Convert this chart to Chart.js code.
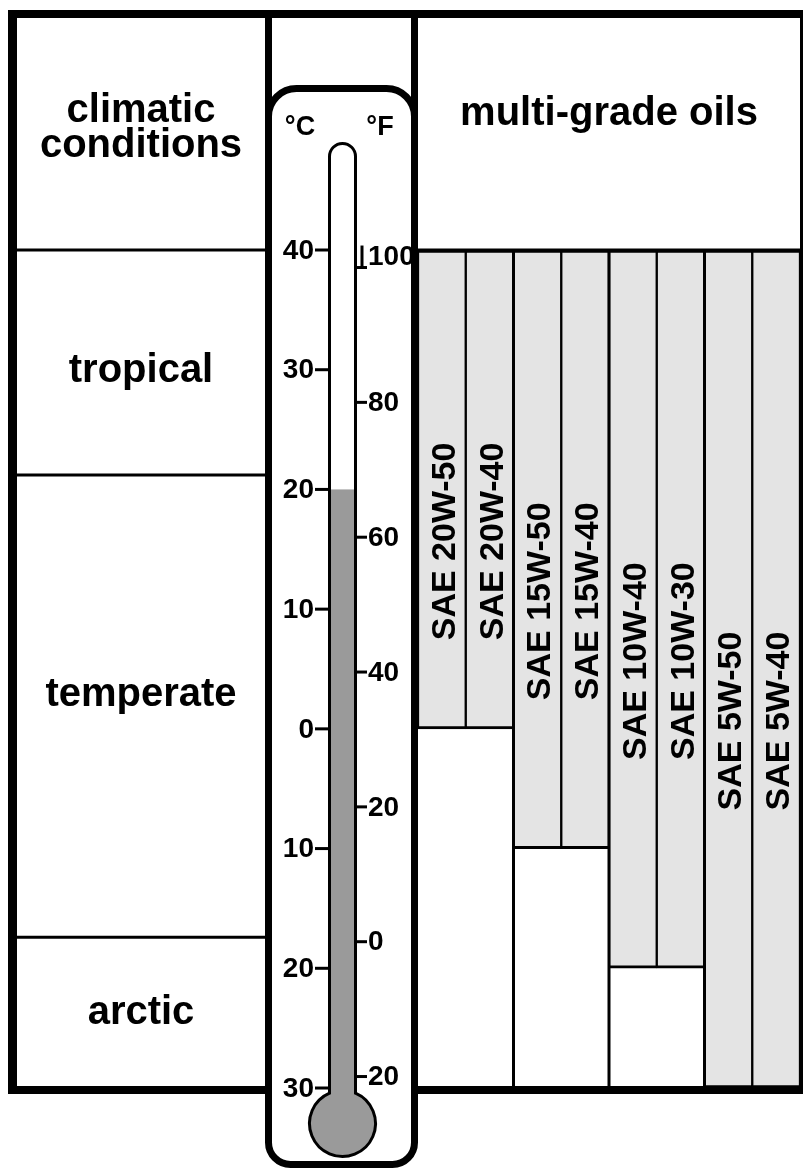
<!DOCTYPE html>
<html>
<head>
<meta charset="utf-8">
<script src="https://cdn.jsdelivr.net/npm/chart.js@4.4.1/dist/chart.umd.min.js"></script>
<style>
  body { margin: 0; background: #fff; }
  canvas { display: block; }
</style>
</head>
<body>
<canvas id="myChart" width="803" height="1171"></canvas>
<script>
// Oel-Sorten und ihr Temperaturbereich (°C)
const oilGrades = ['SAE 20W-50', 'SAE 20W-40', 'SAE 15W-50', 'SAE 15W-40', 'SAE 10W-40', 'SAE 10W-30', 'SAE 5W-50', 'SAE 5W-40'];
const oilMinC = [0, 0, -10, -10, -20, -20, -30, -30];
const oilMaxC = [40, 40, 40, 40, 40, 40, 40, 40];

// Klimazonen (°C)
const climateZones = ['tropical', 'temperate', 'arctic'];
const climateTopC = [40, 21.2, -17.4];
const climateBottomC = [21.2, -17.4, -30];

// Thermometer-Skalen
const celsiusTicks = [40, 30, 20, 10, 0, -10, -20, -30];
const celsiusLabels = ['40', '30', '20', '10', '0', '10', '20', '30'];
const fahrenheitTicks = [100, 80, 60, 40, 20, 0, -20];
const fahrenheitLabels = ['100', '80', '60', '40', '20', '0', '20'];
const thermometerC = 20;

const FONT = "'Liberation Sans', Arial, Helvetica, sans-serif";

function roundedRect(ctx, x, y, w, h, rTop, rBottom) {
    ctx.beginPath();
    ctx.moveTo(x + rTop, y);
    ctx.arcTo(x + w, y, x + w, y + h, rTop);
    ctx.arcTo(x + w, y + h, x, y + h, rBottom);
    ctx.arcTo(x, y + h, x, y, rBottom);
    ctx.arcTo(x, y, x + w, y, rTop);
    ctx.closePath();
}

// zeichnet Rahmen, Klimaspalte, Thermometer und Beschriftungen
const diagramPlugin = {
    id: 'diagram',
    beforeDraw(chart) {
        const ctx = chart.ctx;
        ctx.save();
        ctx.fillStyle = '#fff';
        ctx.fillRect(0, 0, chart.width, chart.height);
        ctx.restore();
    },
    afterDatasetsDraw(chart, args, opts) {
        const ctx = chart.ctx;
        const yC = chart.scales.y;
        const yF = chart.scales.yF;
        const area = chart.chartArea;
        const meta = chart.getDatasetMeta(0);
        ctx.save();
        ctx.fillStyle = '#000';
        ctx.strokeStyle = '#000';

        // Trennlinien zwischen Gruppen mit gleichem Tiefstwert
        ctx.lineWidth = 3;
        for (let i = 1; i < oilMinC.length; i++) {
            if (oilMinC[i] !== oilMinC[i - 1]) {
                const x = (meta.data[i - 1].x + meta.data[i].x) / 2;
                ctx.beginPath();
                ctx.moveTo(x, area.top);
                ctx.lineTo(x, area.bottom);
                ctx.stroke();
            }
        }

        // Oel-Beschriftung senkrecht
        ctx.font = 'bold 34px ' + FONT;
        ctx.textAlign = 'center';
        ctx.textBaseline = 'alphabetic';
        meta.data.forEach(function(bar, i) {
            const top = Math.min(bar.y, bar.base);
            const bottom = Math.max(bar.y, bar.base);
            ctx.save();
            ctx.translate(bar.x + 13, (top + bottom) / 2 + 52);
            ctx.rotate(-Math.PI / 2);
            ctx.fillText(oilGrades[i], 0, 0);
            ctx.restore();
        });

        // Aussenrahmen
        const yBottom = yC.getPixelForValue(-30) + 2;
        ctx.fillRect(8, 10, 795, 8);
        ctx.fillRect(8, 10, 9, yBottom + 4 - 10);
        ctx.fillRect(8, yBottom - 4, 795, 8);
        ctx.fillRect(800, 10, 3, yBottom - 10);
        ctx.fillRect(265, 10, 7, yBottom + 4 - 10);
        ctx.fillRect(411, 10, 7, yBottom + 4 - 10);

        // Kopfzeile
        ctx.lineWidth = 3;
        const yHead = yC.getPixelForValue(40);
        ctx.beginPath();
        ctx.moveTo(17, yHead); ctx.lineTo(265, yHead);
        ctx.moveTo(418, yHead); ctx.lineTo(800, yHead);
        ctx.stroke();

        ctx.font = 'bold 40px ' + FONT;
        ctx.textAlign = 'center';
        ctx.textBaseline = 'alphabetic';
        ctx.fillText('climatic', 141, 122);
        ctx.fillText('conditions', 141, 157);
        ctx.fillText('multi-grade oils', 609, 125);

        // Klimazonen
        climateZones.forEach(function(zone, i) {
            const t = yC.getPixelForValue(climateTopC[i]);
            const b = yC.getPixelForValue(climateBottomC[i]);
            if (i < climateZones.length - 1) {
                ctx.beginPath();
                ctx.moveTo(17, b); ctx.lineTo(265, b);
                ctx.stroke();
            }
            ctx.fillText(zone, 141, (t + b) / 2 + opts.labelShift[i]);
        });

        // Thermometer-Gehaeuse
        ctx.fillStyle = '#fff';
        ctx.lineWidth = 7;
        roundedRect(ctx, 268.5, 88.5, 146, 1076, 28, 22);
        ctx.fill();
        ctx.stroke();

        // Roehre + Kugel
        const tx = 342.5, tr = 13, tTop = 156.5;
        const bx = 342.5, by = 1123.5, br = 33;
        const dy = Math.sqrt(br * br - tr * tr);
        const tube = new Path2D();
        tube.moveTo(tx - tr, by - dy);
        tube.lineTo(tx - tr, tTop);
        tube.arc(tx, tTop, tr, Math.PI, 0);
        tube.lineTo(tx + tr, by - dy);
        tube.arc(bx, by, br, Math.atan2(-dy, tr), Math.atan2(-dy, -tr));
        tube.closePath();
        ctx.fillStyle = '#fff';
        ctx.fill(tube);
        ctx.save();
        ctx.clip(tube);
        ctx.fillStyle = '#9a9a9a';
        const yMerc = yC.getPixelForValue(thermometerC);
        ctx.fillRect(0, yMerc, chart.width, chart.height - yMerc);
        ctx.restore();
        ctx.lineWidth = 3;
        ctx.stroke(tube);

        // Skalen
        ctx.fillStyle = '#000';
        ctx.font = 'bold 27px ' + FONT;
        ctx.textAlign = 'center';
        ctx.fillText('°C', 300, 135);
        ctx.fillText('°F', 380, 135);

        ctx.font = 'bold 28px ' + FONT;
        ctx.textBaseline = 'middle';
        ctx.textAlign = 'right';
        celsiusTicks.forEach(function(v, i) {
            const y = yC.getPixelForValue(v);
            ctx.beginPath();
            ctx.moveTo(315, y); ctx.lineTo(329, y);
            ctx.stroke();
            ctx.fillText(celsiusLabels[i], 314, y + 1);
        });
        ctx.textAlign = 'left';
        fahrenheitTicks.forEach(function(v, i) {
            const y = yF.getPixelForValue(v);
            ctx.beginPath();
            ctx.moveTo(356, y); ctx.lineTo(367, y);
            ctx.stroke();
            // oberstes Label sitzt etwas hoeher, mit kleiner Klammer
            const ly = (i === 0) ? y - 10 : y + 1;
            if (i === 0) {
                ctx.beginPath();
                ctx.moveTo(362, y); ctx.lineTo(362, y - 22);
                ctx.stroke();
            }
            ctx.fillText(fahrenheitLabels[i], 368, ly);
        });

        ctx.restore();
    }
};

var ctx = document.getElementById('myChart').getContext('2d');
var myChart = new Chart(ctx, {
    type: 'bar',
    data: {
        labels: oilGrades,
        datasets: [{
            label: 'multi-grade oils',
            data: oilMinC.map(function(v, i) { return [v, oilMaxC[i]]; }),
            backgroundColor: '#e4e4e4',
            borderColor: '#000',
            borderWidth: { top: 3, bottom: 3, left: 1.5, right: 1.5 },
            borderSkipped: false,
            barPercentage: 1,
            categoryPercentage: 1,
        }]
    },
    options: {
        responsive: false,
        animation: false,
        devicePixelRatio: 1,
        layout: { padding: { left: 418, right: 3, top: 250, bottom: 83 } },
        plugins: {
            legend: { display: false },
            tooltip: { enabled: false },
            diagram: { labelShift: [19, 0, 11] },
        },
        scales: {
            x: { display: false },
            y: { display: false, min: -30, max: 40 },
            yF: { display: false, type: 'linear', position: 'right', min: -21.7, max: 102.6 },
        }
    },
    plugins: [diagramPlugin]
});
</script>
</body>
</html>
